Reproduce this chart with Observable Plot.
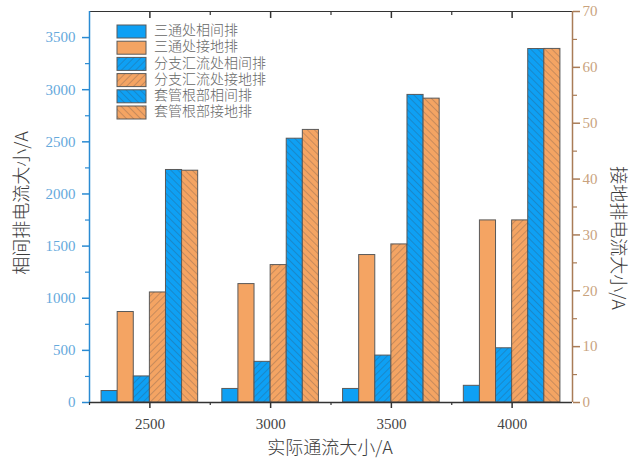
<!DOCTYPE html>
<html>
<head>
<meta charset="utf-8">
<script src="https://cdn.jsdelivr.net/npm/d3@7"></script>
<script src="https://cdn.jsdelivr.net/npm/@observablehq/plot@0.6"></script>
<style>
  html, body { margin: 0; padding: 0; background: #fff; }
  #chart { position: relative; width: 638px; height: 462px; }
</style>
</head>
<body>
<div id="chart"></div>
<script>
// ---- data ----
const groups = [2500, 3000, 3500, 4000];
const seriesNames = ["三通处相间排", "三通处接地排", "分支汇流处相间排", "分支汇流处接地排", "套管根部相间排", "套管根部接地排"];
const seriesAxis = ["left", "right", "left", "right", "left", "right"];
const seriesHatch = ["none", "none", "fwd", "fwd", "back", "back"];
const v_santong_xiang = [110, 130, 130, 160];
const v_santong_jie = [16.2, 21.2, 26.4, 32.6];
const v_fenzhi_xiang = [250, 390, 450, 520];
const v_fenzhi_jie = [19.7, 24.6, 28.3, 32.6];
const v_taoguan_xiang = [2230, 2530, 2950, 3390];
const v_taoguan_jie = [41.5, 48.8, 54.4, 63.3];
const seriesValues = [v_santong_xiang, v_santong_jie, v_fenzhi_xiang, v_fenzhi_jie, v_taoguan_xiang, v_taoguan_jie];
const leftTicks = [0, 500, 1000, 1500, 2000, 2500, 3000, 3500];
const rightTicks = [0, 10, 20, 30, 40, 50, 60, 70];
const xTitle = "实际通流大小/A";
const yLeftTitle = "相间排电流大小/A";
const yRightTitle = "接地排电流大小/A";

// ---- layout / styling ----
const leftMax = 3750, rightMax = 70;
const K = leftMax / rightMax;
const groupWidth = 400;
const barW = groupWidth / seriesNames.length;
const blue = "#0ea0f4", orange = "#f4a463";
const colorOf = a => a === "left" ? blue : orange;

const rows = [];
seriesNames.forEach((s, i) => groups.forEach((g, j) => {
  const v = seriesValues[i][j];
  const x1 = g - groupWidth / 2 + i * barW;
  rows.push({series: s, i, g, v, x1, x2: x1 + barW, yv: seriesAxis[i] === "right" ? v * K : v,
             fill: colorOf(seriesAxis[i]), hatch: seriesHatch[i]});
}));

const tickFont = "Liberation Serif, DejaVu Serif, serif";
const leftAxisColor = "#2a8bd3", leftLabelColor = "#65a9dc";
const rightAxisColor = "#a97c57", rightLabelColor = "#c9a37e";

const plot = Plot.plot({
  width: 638, height: 462,
  marginLeft: 89, marginRight: 66, marginTop: 11, marginBottom: 60,
  style: {fontFamily: tickFont, fontSize: "15px", background: "#fff", overflow: "visible"},
  x: {type: "linear", domain: [2250, 4250]},
  y: {type: "linear", domain: [0, leftMax]},
  marks: [
    Plot.rect(rows, {x1: "x1", x2: "x2", y1: 0, y2: "yv", fill: "fill", stroke: "#5a5a5a", strokeWidth: 1}),
    Plot.rect(rows.filter(d => d.hatch === "fwd"), {x1: "x1", x2: "x2", y1: 0, y2: "yv", fill: "url(#hatchFwd)"}),
    Plot.rect(rows.filter(d => d.hatch === "back"), {x1: "x1", x2: "x2", y1: 0, y2: "yv", fill: "url(#hatchBack)"}),
    // frame
    Plot.ruleY([leftMax], {stroke: "#333", strokeWidth: 1.2}),
    Plot.ruleY([0], {stroke: "#333", strokeWidth: 1.5}),
    Plot.ruleX([2250], {stroke: leftAxisColor, strokeWidth: 1.5}),
    Plot.ruleX([4250], {stroke: rightAxisColor, strokeWidth: 1.5}),
    // left axis
    Plot.axisY(leftTicks, {anchor: "left", tickSize: 7, tickPadding: 7, stroke: leftAxisColor, fill: leftLabelColor, strokeWidth: 1.5, tickFormat: d => String(d), label: null}),
    Plot.axisY(d3.range(250, leftMax, 500), {anchor: "left", tickSize: 4, stroke: leftAxisColor, strokeWidth: 1.2, tickFormat: () => "", label: null}),
    // right axis
    Plot.axisY(rightTicks.map(d => d * K), {anchor: "right", tickSize: 7, tickPadding: 3, stroke: rightAxisColor, fill: rightLabelColor, strokeWidth: 1.5, tickFormat: v => String(Math.round(v / K)), label: null}),
    Plot.axisY(d3.range(5, rightMax, 10).map(d => d * K), {anchor: "right", tickSize: 4, stroke: rightAxisColor, strokeWidth: 1.2, tickFormat: () => "", label: null}),
    // bottom axis
    Plot.axisX(groups, {anchor: "bottom", tickSize: 6, tickPadding: 10, stroke: "#333", fill: "#444", strokeWidth: 1.5, tickFormat: d => String(d), label: null}),
    Plot.axisX(d3.range(2250, 4000, 500), {anchor: "bottom", tickSize: 3, stroke: "#333", strokeWidth: 1.2, tickFormat: () => "", label: null}),
    // top ticks (inward)
    Plot.axisX(groups, {anchor: "top", tickSize: 6, dy: 6, stroke: "#333", strokeWidth: 1.5, tickFormat: () => "", label: null}),
    Plot.axisX(d3.range(2750, 4000, 500), {anchor: "top", tickSize: 3, dy: 3, stroke: "#333", strokeWidth: 1.2, tickFormat: () => "", label: null})
  ]
});

const svg = d3.select(plot);
const defs = svg.insert("defs", ":first-child");
function addPattern(id, angle) {
  const p = defs.append("pattern").attr("id", id).attr("patternUnits", "userSpaceOnUse")
    .attr("width", 5).attr("height", 5).attr("patternTransform", `rotate(${angle})`);
  p.append("line").attr("x1", 0).attr("y1", 0).attr("x2", 0).attr("y2", 5)
    .attr("stroke", "rgba(60,60,70,0.55)").attr("stroke-width", 0.9);
}
addPattern("hatchFwd", 45);
addPattern("hatchBack", -45);

const cjk = "'Noto Sans CJK SC', sans-serif";
// titles
function title(tr, txt) {
  svg.append("text").attr("transform", tr)
    .attr("text-anchor", "middle").attr("dominant-baseline", "middle")
    .attr("font-family", cjk).attr("font-size", 18).attr("font-weight", 300)
    .attr("fill", "#3c3c3c").text(txt);
}
title("translate(23,203) rotate(-90)", yLeftTitle);
title("translate(617,238) rotate(90)", yRightTitle);
title("translate(330,449)", xTitle);

// legend
const lg = svg.append("g");
seriesNames.forEach((s, i) => {
  const y = 25 + i * 16.2;
  lg.append("rect").attr("x", 117).attr("y", y).attr("width", 29).attr("height", 13)
    .attr("fill", colorOf(seriesAxis[i])).attr("stroke", "#5a5a5a");
  if (seriesHatch[i] !== "none") {
    lg.append("rect").attr("x", 117).attr("y", y).attr("width", 29).attr("height", 13)
      .attr("fill", seriesHatch[i] === "fwd" ? "url(#hatchFwd)" : "url(#hatchBack)");
  }
  lg.append("text").attr("x", 154).attr("y", y + 6.5).attr("dominant-baseline", "middle")
    .attr("text-anchor", "start")
    .attr("font-family", cjk).attr("font-size", 14).attr("font-weight", 300).attr("fill", "#666").text(s);
});

document.getElementById("chart").append(plot);
</script>
</body>
</html>
